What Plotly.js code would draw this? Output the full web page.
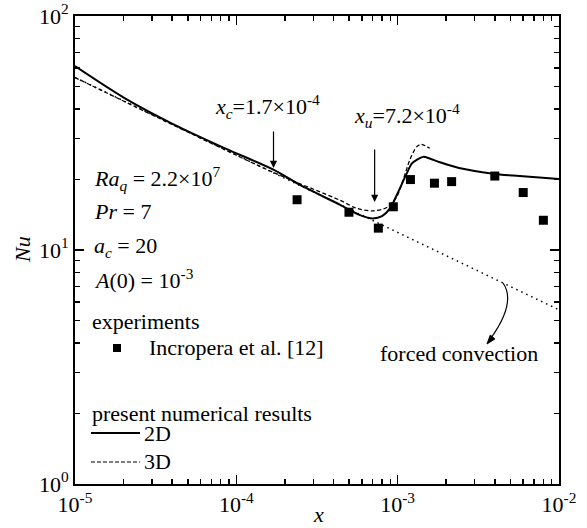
<!DOCTYPE html>
<html>
<head>
<meta charset="utf-8">
<script src="https://cdn.plot.ly/plotly-3.0.1.min.js"></script>
<style>html,body{margin:0;padding:0;background:#fff}#chart{width:587px;height:528px}</style>
</head>
<body>
<div id="chart"></div>
<script>
// ---- data ----
const xExp  = [2.38e-4, 4.99e-4, 7.59e-4, 9.4e-4, 1.2e-3, 1.69e-3, 2.16e-3, 4.0e-3, 6.0e-3, 8.0e-3];
const nuExp = [16.4, 14.5, 12.4, 15.3, 20.0, 19.3, 19.6, 20.7, 17.6, 13.4];

const x2D  = [1e-5, 2.04e-5, 4.17e-5, 8.51e-5, 1.71e-4, 2.48e-4, 4.40e-4, 5.85e-4, 7.03e-4, 8.0e-4, 8.97e-4, 1.0e-3, 1.14e-3, 1.23e-3, 1.44e-3, 1.58e-3, 1.83e-3, 2.4e-3, 3.9e-3, 5.2e-3, 1e-2];
const nu2D = [61.1, 44.5, 34.2, 27.2, 22.0, 18.97, 15.6, 14.1, 13.65, 13.96, 15.07, 17.5, 21.3, 23.5, 25.0, 24.6, 23.7, 22.4, 21.2, 20.8, 20.1];

const x3D  = [1e-5, 4.17e-5, 1.71e-4, 4.40e-4, 5.57e-4, 7.06e-4, 8.55e-4, 9.87e-4, 1.08e-3, 1.19e-3, 1.31e-3, 1.40e-3, 1.58e-3];
const nu3D = [54.6, 33.9, 21.4, 16.3, 15.07, 14.7, 15.2, 16.9, 19.9, 24.3, 27.6, 28.3, 27.2];

const xForced  = [1e-5, 1e-2];
const nuForced = [54.6, 5.55];

const xTickVals = [1e-5, 1e-4, 1e-3, 1e-2];
const xTickText = ['10<sup>-5</sup>', '10<sup>-4</sup>', '10<sup>-3</sup>', '10<sup>-2</sup>'];
const yTickVals = [1, 10, 100];
const yTickText = ['10<sup>0</sup>', '10<sup>1</sup>', '10<sup>2</sup>'];

const xc = 1.7e-4, xu = 7.2e-4;

// ---- helpers (layout positions only) ----
const L = 75, R = 559, T = 16, B = 484;
const px = v => (v - L) / (R - L);
const py = v => (B - v) / (B - T);
function minorTicks(lo, hi) {
  const out = [];
  for (let e = lo; e < hi; e++) for (let m = 2; m <= 9; m++) out.push(m * Math.pow(10, e));
  return out;
}

const FONT = '"Liberation Serif", "Times New Roman", Times, serif';

const traces = [
  {x: xForced, y: nuForced, mode: 'lines', line: {color: 'black', width: 1.5, dash: '1.5px,4px'}, hoverinfo: 'skip'},
  {x: x3D, y: nu3D, mode: 'lines', line: {color: 'black', width: 1.3, dash: '4px,2.5px', shape: 'spline', smoothing: 0.8}},
  {x: x2D, y: nu2D, mode: 'lines', line: {color: 'black', width: 2, shape: 'spline', smoothing: 0.8}},
  {x: xExp, y: nuExp, mode: 'markers', marker: {symbol: 'square', size: 9, color: 'black'}}
];

const axisCommon = {
  type: 'log', showline: true, linewidth: 2, linecolor: 'black', mirror: 'ticks',
  ticks: 'inside', ticklen: 9, tickwidth: 1.5, tickcolor: 'black',
  showgrid: false, zeroline: false, tickmode: 'array',
  tickfont: {family: FONT, size: 22, color: 'black'}
};

function ann(text, x, y, opts) {
  return Object.assign({text: text, x: px(x), y: py(y), xref: 'paper', yref: 'paper',
    xanchor: 'left', yanchor: 'middle', showarrow: false,
    font: {family: FONT, size: 22, color: 'black'}}, opts || {});
}

const annotations = [
  ann('<i>x</i><sub><i>c</i></sub>=1.7×10<sup>-4</sup>', 213, 107),
  ann('<i>x</i><sub><i>u</i></sub>=7.2×10<sup>-4</sup>', 352, 115),
  ann('<i>Ra</i><sub><i>q</i></sub> = 2.2×10<sup>7</sup>', 92, 178),
  ann('<i>Pr</i> = 7', 92, 212),
  ann('<i>a</i><sub><i>c</i></sub> = 20', 92, 247),
  ann('<i>A</i>(0) = 10<sup>-3</sup>', 92, 279),
  ann('experiments', 90, 321),
  ann('Incropera et al. [12]', 147, 348),
  ann('present numerical results', 90, 413),
  ann('2D', 142, 433),
  ann('3D', 142, 461),
  ann('forced convection', 378, 353),
  ann('<i>Nu</i>', 22, 250, {xanchor: 'center', textangle: -90}),
  ann('<i>x</i>', 318, 514, {xanchor: 'center'}),
  {x: Math.log10(xc), y: 2 - (168 - T) / 234, xref: 'x', yref: 'y', text: '', showarrow: true,
   arrowhead: 2, arrowsize: 1.2, arrowwidth: 1.2, arrowcolor: 'black', ax: 0, ay: -38},
  {x: Math.log10(xu), y: 2 - (202 - T) / 234, xref: 'x', yref: 'y', text: '', showarrow: true,
   arrowhead: 2, arrowsize: 1.2, arrowwidth: 1.2, arrowcolor: 'black', ax: 0, ay: -54}
];

// curved arrow (paper coords)
const S = [503, 283], C = [516.5, 302], E = [491, 338];
const tri = [[487, 344], [494.9, 338.9], [490.3, 335.1]];
const shapes = [
  {type: 'line', xref: 'paper', yref: 'paper', x0: px(91), x1: px(140), y0: py(433), y1: py(433), line: {color: 'black', width: 2}},
  {type: 'line', xref: 'paper', yref: 'paper', x0: px(91), x1: px(140), y0: py(462), y1: py(462), line: {color: 'black', width: 1.2, dash: '4px,2px'}},
  {type: 'rect', xref: 'paper', yref: 'paper', x0: px(113), x1: px(121), y0: py(352), y1: py(344), fillcolor: 'black', line: {width: 0}},
  {type: 'path', xref: 'paper', yref: 'paper',
   path: `M ${px(S[0])} ${py(S[1])} Q ${px(C[0])} ${py(C[1])} ${px(E[0])} ${py(E[1])}`,
   line: {color: 'black', width: 1.2}},
  {type: 'path', xref: 'paper', yref: 'paper',
   path: `M ${px(tri[0][0])} ${py(tri[0][1])} L ${px(tri[1][0])} ${py(tri[1][1])} L ${px(tri[2][0])} ${py(tri[2][1])} Z`,
   fillcolor: 'black', line: {color: 'black', width: 1}}
];

const layout = {
  width: 587, height: 528,
  margin: {l: 75, r: 28, t: 16, b: 44},
  paper_bgcolor: 'white', plot_bgcolor: 'white',
  font: {family: FONT, size: 22, color: 'black'},
  showlegend: false,
  xaxis: Object.assign({}, axisCommon, {range: [-5, -2], tickvals: xTickVals, ticktext: xTickText,
    minor: {tickmode: 'array', tickvals: minorTicks(-5, -2), ticks: 'inside', ticklen: 5, tickwidth: 1.5, tickcolor: 'black', showgrid: false}}),
  yaxis: Object.assign({}, axisCommon, {range: [0, 2], tickvals: yTickVals, ticktext: yTickText,
    minor: {tickmode: 'array', tickvals: minorTicks(0, 2), ticks: 'inside', ticklen: 5, tickwidth: 1.5, tickcolor: 'black', showgrid: false}}),
  annotations: annotations,
  shapes: shapes
};

Plotly.newPlot('chart', traces, layout, {displayModeBar: false, staticPlot: true});
</script>
</body>
</html>
